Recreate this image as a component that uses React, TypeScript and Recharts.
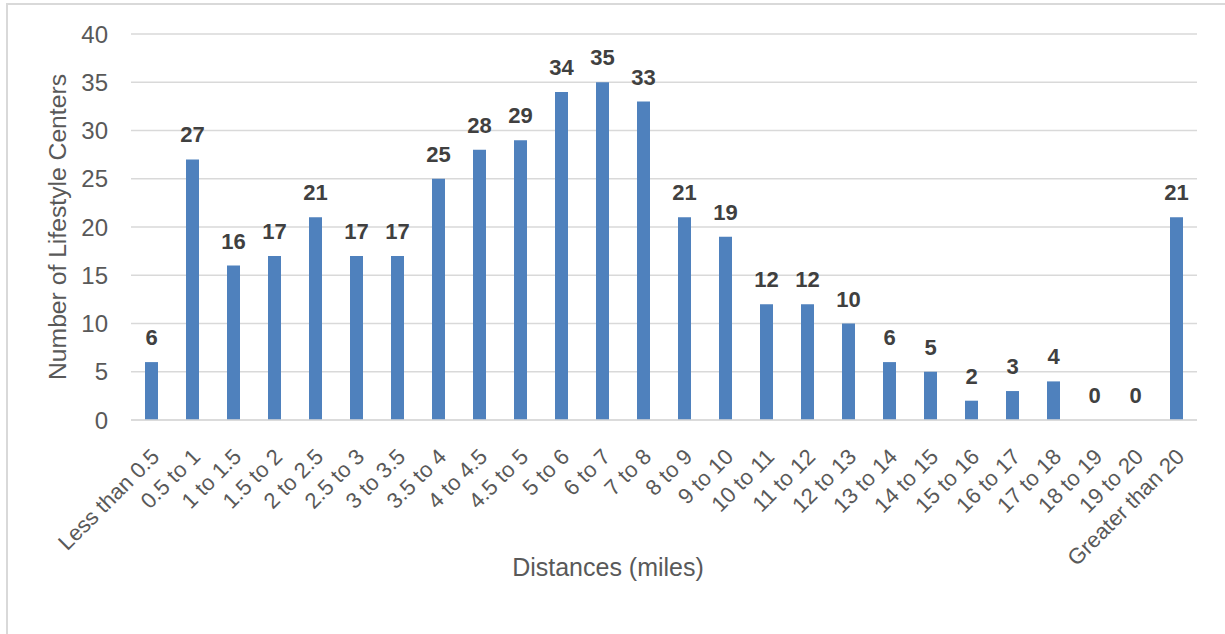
// Histogram of lifestyle centers by distance band, Excel-style column chart.
import { ComposedChart, Bar, Line, XAxis, YAxis, CartesianGrid, LabelList } from 'recharts'

const LABELS = [
  'Less than 0.5', '0.5 to 1', '1 to 1.5', '1.5 to 2', '2 to 2.5', '2.5 to 3', '3 to 3.5',
  '3.5 to 4', '4 to 4.5', '4.5 to 5', '5 to 6', '6 to 7', '7 to 8', '8 to 9', '9 to 10',
  '10 to 11', '11 to 12', '12 to 13', '13 to 14', '14 to 15', '15 to 16', '16 to 17',
  '17 to 18', '18 to 19', '19 to 20', 'Greater than 20',
]
const COUNTS = [6, 27, 16, 17, 21, 17, 17, 25, 28, 29, 34, 35, 33, 21, 19, 12, 12, 10, 6, 5, 2, 3, 4, 0, 0, 21]
const Y_TICKS = [0, 5, 10, 15, 20, 25, 30, 35, 40]

const data = LABELS.map((name, i) => ({ name, count: COUNTS[i] }))

const FONT = '"Liberation Sans", Arial, sans-serif'
const TICK_COLOR = '#595959'

function XTick({ x, y, payload }: any) {
  return (
    <g transform={`translate(${x - 2},${y + 19})`}>
      <text x={0} y={0} dy="0.71em" textAnchor="end" transform="rotate(-45)"
        fill={TICK_COLOR} fontSize={22} fontFamily={FONT}>
        {payload.value}
      </text>
    </g>
  )
}

export default function App() {
  return (
    <div style={{ position: 'absolute', left: 0, top: 0, width: 1225, height: 634, background: '#fff' }}>
      <div style={{
        position: 'absolute', left: 6, top: 3, width: 1230, height: 640,
        borderLeft: '2px solid #d9d9d9', borderTop: '2px solid #d9d9d9',
      }} />
      <div style={{ position: 'absolute', left: 0, top: 0 }}>
        <ComposedChart width={1225} height={634} data={data}
          margin={{ top: 34, right: 28, left: 41, bottom: 54 }}>
          <CartesianGrid vertical={false} stroke="#d9d9d9" strokeWidth={1.5} />
          <XAxis dataKey="name" interval={0} height={160} tickLine={false}
            axisLine={{ stroke: '#d9d9d9', strokeWidth: 1.5 }}
            tick={<XTick />}
            label={{
              content: () => (
                <text x={608} y={576} textAnchor="middle" fill={TICK_COLOR}
                  fontSize={25} fontFamily={FONT}>Distances (miles)</text>
              ),
            }} />
          <YAxis domain={[0, 40]} ticks={Y_TICKS} width={90} tickSize={0} tickMargin={23}
            axisLine={false} tickLine={false}
            tick={{ fill: TICK_COLOR, fontSize: 24, fontFamily: FONT }}
            label={{
              content: () => (
                <text x={66} y={227} textAnchor="middle" transform="rotate(-90, 66, 227)"
                  fill={TICK_COLOR} fontSize={24.7} fontFamily={FONT}>Number of Lifestyle Centers</text>
              ),
            }} />
          <Bar dataKey="count" fill="#4f81bd" barSize={13} isAnimationActive={false} />
          <Line dataKey="count" stroke="none" dot={false} activeDot={false} isAnimationActive={false}>
            <LabelList dataKey="count" position="top" offset={17}
              fill="#404040" fontSize={22} fontWeight="bold" fontFamily={FONT} />
          </Line>
        </ComposedChart>
      </div>
    </div>
  )
}
